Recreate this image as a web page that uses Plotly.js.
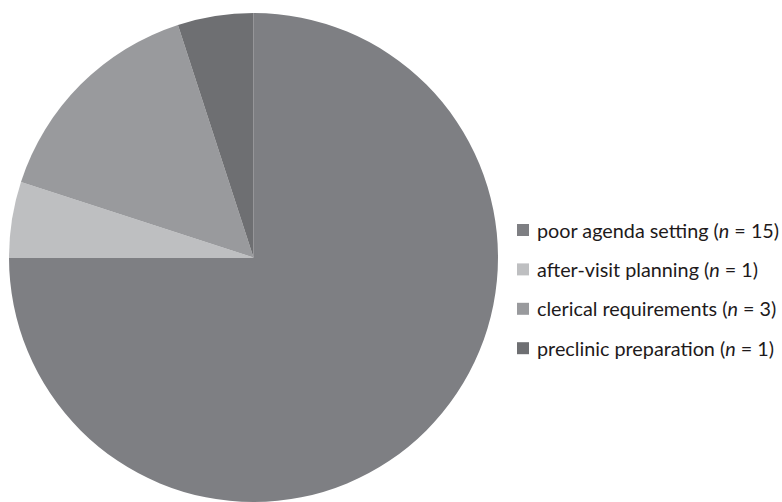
<!DOCTYPE html>
<html>
<head>
<meta charset="utf-8">
<script src="https://cdn.plot.ly/plotly-3.0.1.min.js"></script>
<style>html,body{margin:0;padding:0;background:#fff;}#chart{width:782px;height:502px;}</style>
</head>
<body>
<div id="chart"></div>
<script>
const categories = ["poor agenda setting", "after-visit planning", "clerical requirements", "preclinic preparation"];
const counts = [15, 1, 3, 1];
const sliceColors = ["#7e7f83", "#bebfc1", "#999a9d", "#6e6f72"];

const W = 782, H = 502;
const px = x => x / W;
const py = y => 1 - y / H;

const trace = {
  type: "pie",
  labels: categories,
  values: counts,
  sort: false,
  direction: "clockwise",
  rotation: 0,
  marker: {colors: sliceColors, line: {width: 0}},
  textinfo: "none",
  hoverinfo: "label+value",
  showlegend: false,
  domain: {x: [px(8.5), px(498.5)], y: [py(503), py(13)]}
};

// manual legend (positions are layout only)
const rowTop = 230, rowGap = 39.4;
const annotations = [], shapes = [];
categories.forEach((c, i) => {
  const yc = rowTop + i * rowGap;
  shapes.push({
    type: "rect", xref: "paper", yref: "paper",
    x0: px(517), x1: px(529), y0: py(yc - 6), y1: py(yc + 6),
    fillcolor: sliceColors[i], line: {width: 0}
  });
  annotations.push({
    xref: "paper", yref: "paper",
    x: px(535), y: py(yc - 0.5), xanchor: "left", yanchor: "middle",
    showarrow: false,
    text: c + " (<i>n</i> = " + counts[i] + ")",
    font: {family: "Lato, 'Open Sans', sans-serif", size: 19.8, color: "#1e1a1b"}
  });
});

const layout = {
  width: W, height: H,
  margin: {l: 0, r: 0, t: 0, b: 0},
  paper_bgcolor: "#ffffff",
  showlegend: false,
  font: {family: "Lato, 'Open Sans', sans-serif", color: "#1e1a1b", size: 19.8},
  annotations: annotations,
  shapes: shapes
};

Plotly.newPlot("chart", [trace], layout, {displayModeBar: false, staticPlot: true});
</script>
</body>
</html>
